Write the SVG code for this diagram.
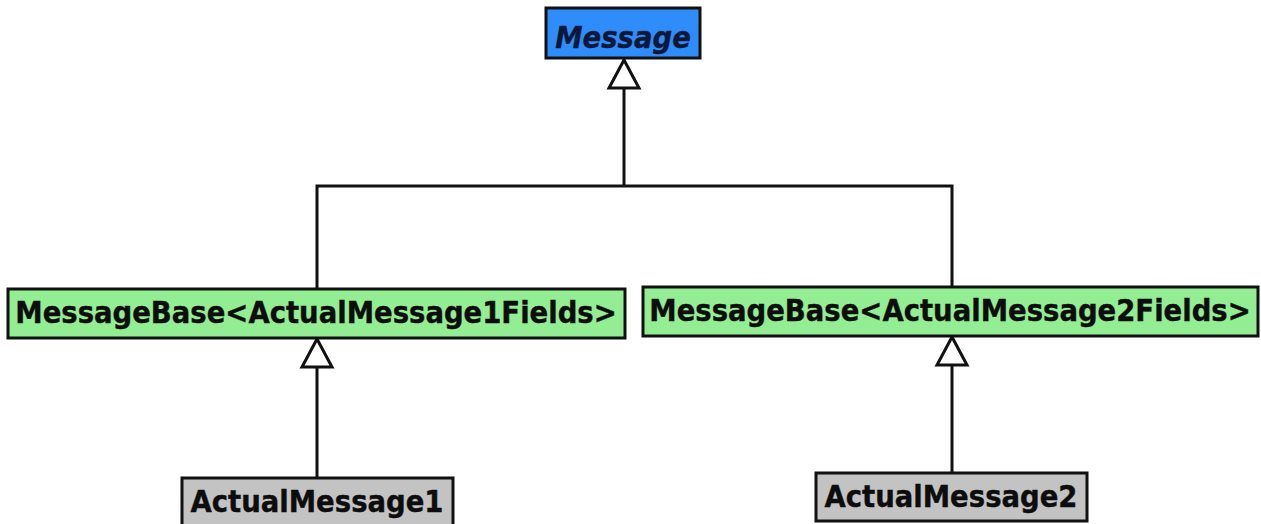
<svg xmlns="http://www.w3.org/2000/svg" width="1261" height="524" viewBox="0 0 1261 524">
  <style>
    .box { stroke: #111; stroke-width: 3; }
    .abstract { fill: #2e8dfb; }
    .base { fill: #93ee93; }
    .leaf { fill: #c3c3c3; }
    .label { font-family: "DejaVu Sans", Verdana, sans-serif; font-weight: bold; font-size: 27.5px; fill: #0d0d0d; stroke: #0d0d0d; stroke-width: 0.4; }
    .italic { font-style: italic; fill: #0c1838; stroke: #0c1838; }
    .edge { fill: none; stroke: #111; stroke-width: 3; }
    .head { fill: #fff; stroke: #111; stroke-width: 3; stroke-linejoin: miter; }
  </style>
  <rect width="1261" height="524" fill="#fff"/>

  <!-- inheritance connectors -->
  <g id="connectors">
    <!-- shared trunk up to Message -->
    <polyline class="edge" points="317,289 317,186 952,186 952,287"/>
    <line class="edge" x1="624" y1="186" x2="624" y2="88"/>
    <polygon class="head" points="624,60 609,88 639,88"/>
    <!-- ActualMessage1 -> MessageBase<ActualMessage1Fields> -->
    <line class="edge" x1="317" y1="478" x2="317" y2="367"/>
    <polygon class="head" points="317,339 302,367 332,367"/>
    <!-- ActualMessage2 -> MessageBase<ActualMessage2Fields> -->
    <line class="edge" x1="952" y1="473" x2="952" y2="365"/>
    <polygon class="head" points="952,337 937,365 967,365"/>
  </g>

  <g id="message">
    <rect class="box abstract" x="546" y="8" width="154" height="50"/>
    <text class="label italic" transform="translate(623,48) scale(1,1.1)" text-anchor="middle">Message</text>
  </g>

  <g id="base1">
    <rect class="box base" x="8" y="289" width="617" height="49"/>
    <text class="label" transform="translate(316,323) scale(1,1.08)" text-anchor="middle">MessageBase&lt;ActualMessage1Fields&gt;</text>
  </g>

  <g id="base2">
    <rect class="box base" x="643" y="287" width="615" height="49"/>
    <text class="label" transform="translate(950,321) scale(1,1.08)" text-anchor="middle">MessageBase&lt;ActualMessage2Fields&gt;</text>
  </g>

  <g id="actual1">
    <rect class="box leaf" x="182" y="478" width="271" height="50"/>
    <text class="label" transform="translate(317,512) scale(1,1.08)" text-anchor="middle">ActualMessage1</text>
  </g>

  <g id="actual2">
    <rect class="box leaf" x="816" y="473" width="271" height="48"/>
    <text class="label" transform="translate(951,507) scale(1,1.08)" text-anchor="middle">ActualMessage2</text>
  </g>
</svg>
